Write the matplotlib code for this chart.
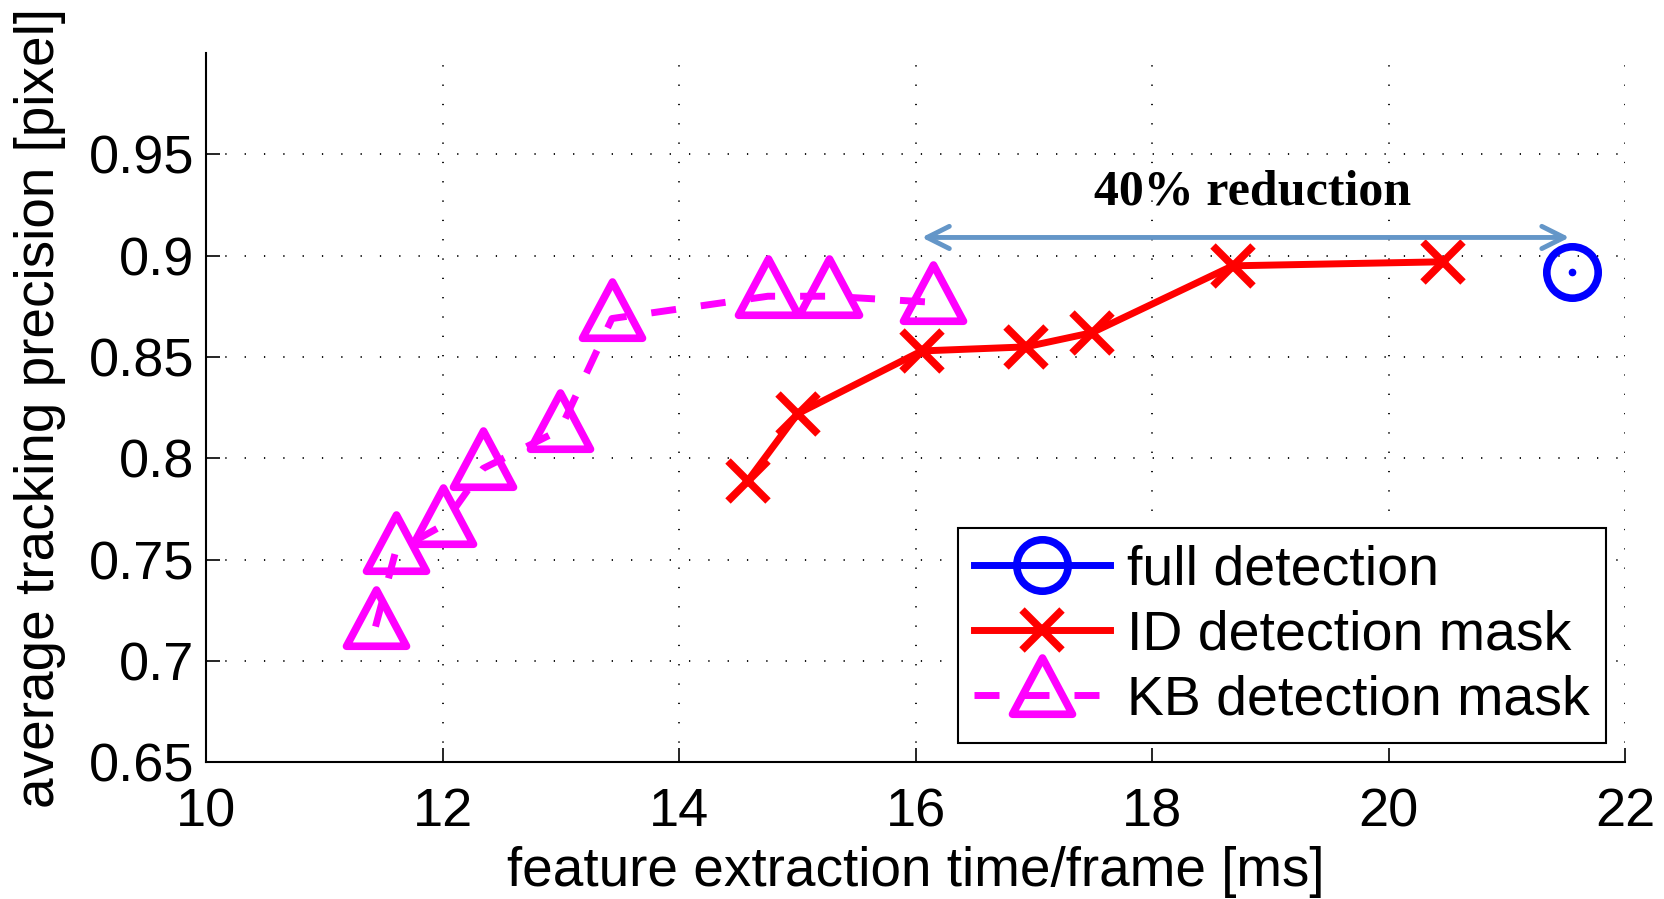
import matplotlib
matplotlib.use('Agg')
import matplotlib.pyplot as plt
from matplotlib.path import Path

# ---- data ----
full_x = [21.55]
full_y = [0.892]
id_x = [14.58, 15.00, 16.05, 16.93, 17.49, 18.68, 20.46]
id_y = [0.789, 0.822, 0.853, 0.855, 0.862, 0.895, 0.897]
kb_x = [11.43, 11.60, 12.00, 12.34, 12.99, 13.43, 14.75, 15.27, 16.15]
kb_y = [0.717, 0.754, 0.767, 0.795, 0.814, 0.869, 0.880, 0.880, 0.877]
series_labels = ['full detection', 'ID detection mask', 'KB detection mask']
xticks = [10, 12, 14, 16, 18, 20, 22]
yticks = [0.65, 0.70, 0.75, 0.80, 0.85, 0.90, 0.95]
ytick_labels = ['0.65', '0.7', '0.75', '0.8', '0.85', '0.9', '0.95']
arrow_x = [16.05, 21.53]
arrow_y = 0.909
annot_text = '40% reduction'
annot_pos = (18.85, 0.931)

plt.rcParams['font.family'] = ['Liberation Sans', 'DejaVu Sans']

fig = plt.figure(figsize=(16.65, 8.99), dpi=100)
ax = fig.add_axes([0.124, 0.152, 0.852, 0.789])

# triangle marker centred on its centroid (MATLAB style)
tri = Path([(0, 1), (-0.8, -0.5), (0.8, -0.5), (0, 1)],
           [Path.MOVETO, Path.LINETO, Path.LINETO, Path.CLOSEPOLY])

lw = 5.0
ax.plot(full_x, full_y, color=(0, 0, 1), lw=lw, marker='o', ms=37,
        mfc='none', mew=5.5, label=series_labels[0])
ax.plot(full_x, full_y, color=(0, 0, 1), lw=0, marker='o', ms=4.5)
ax.plot(id_x, id_y, color=(1, 0, 0), lw=lw, marker='x', ms=29,
        mew=5.5, label=series_labels[1])
ax.plot(kb_x, kb_y, color=(1, 0, 1), lw=lw, ls=(0, (3.6, 3.6)), marker=tri,
        ms=54, mfc='none', mew=5.5, label=series_labels[2])

ax.annotate('', xy=(arrow_x[1], arrow_y), xytext=(arrow_x[0], arrow_y),
            arrowprops=dict(arrowstyle='<->, head_length=0.8, head_width=0.4',
                            lw=3.5, color='#6496c8', shrinkA=0, shrinkB=0,
                            mutation_scale=20))
ax.text(annot_pos[0], annot_pos[1], annot_text, ha='center', va='center',
        fontsize=36, fontweight='bold', family=['Liberation Serif', 'DejaVu Serif'])

ax.set_xlim(10, 22)
ax.set_ylim(0.65, 1.0)
ax.set_xticks(xticks)
ax.set_xticklabels([str(t) for t in xticks])
ax.set_yticks(yticks)
ax.set_yticklabels(ytick_labels)
ax.grid(True, color='black', lw=1.3, ls=(0, (0.7, 10)))
ax.set_axisbelow(True)
for s in ['top', 'right']:
    ax.spines[s].set_visible(False)
for s in ['left', 'bottom']:
    ax.spines[s].set_linewidth(1.5)
ax.tick_params(axis='both', direction='in', length=10, width=1.2, labelsize=39)
ax.tick_params(axis='x', pad=18)
ax.tick_params(axis='y', pad=9)

ax.set_xlabel('feature extraction time/frame [ms]', fontsize=39.5, labelpad=6)
ax.set_ylabel('average tracking precision [pixel]', fontsize=39.5, labelpad=16)

leg = ax.legend(loc='lower right', fontsize=40, handlelength=2.45,
                handletextpad=0.3, labelspacing=0.24, borderpad=0.29,
                borderaxespad=0.35, fancybox=False, framealpha=1)
leg.get_frame().set_edgecolor('black')
leg.get_frame().set_linewidth(1.5)

fig.savefig('out.png', dpi=100)
